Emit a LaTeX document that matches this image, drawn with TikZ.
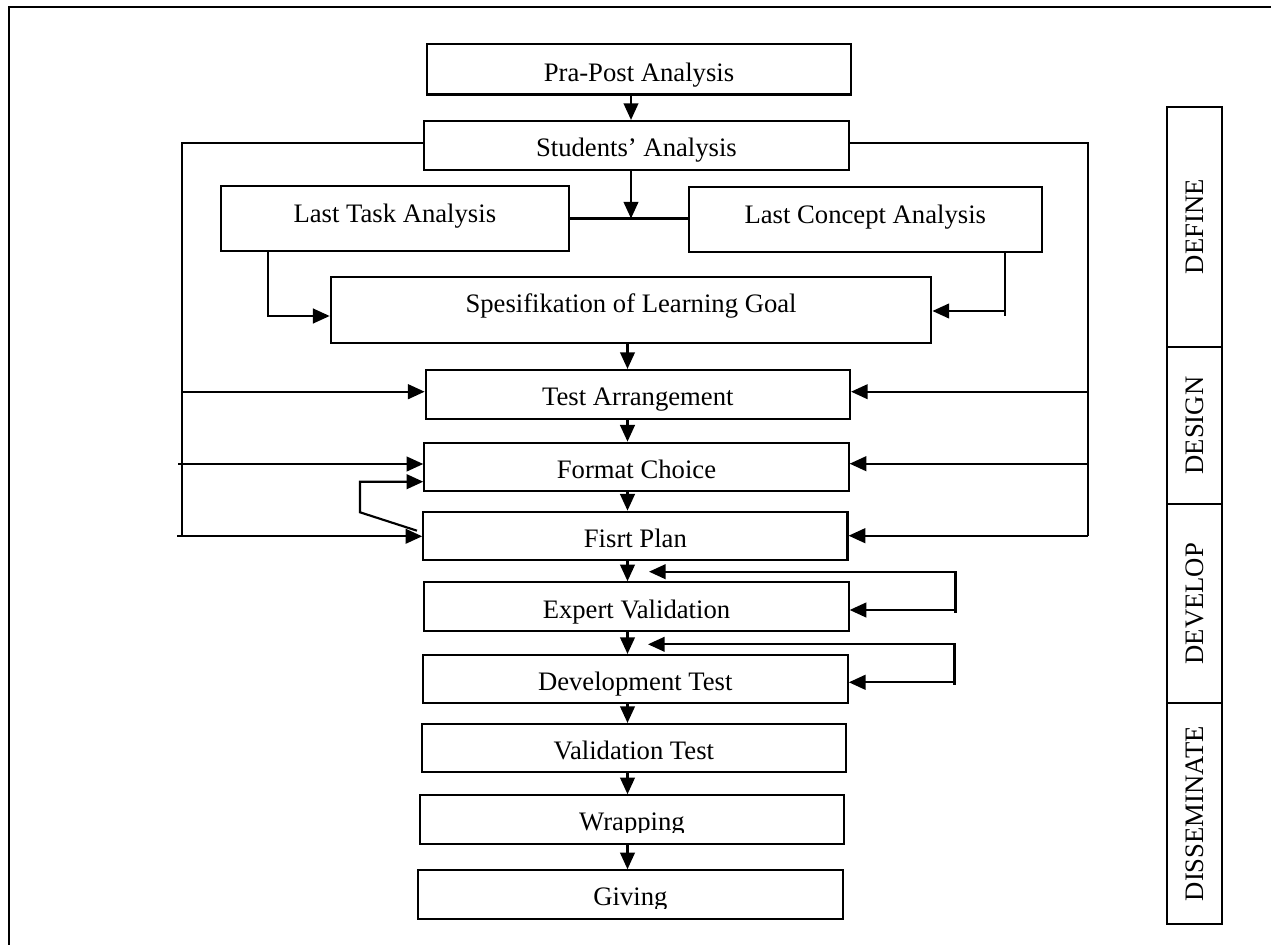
\documentclass[tikz,border=0pt]{standalone}
\usepackage{fontspec}
\setmainfont{Liberation Serif}
\usetikzlibrary{arrows.meta,calc}
\begin{document}
\begin{tikzpicture}[x=0.75pt,y=-0.75pt,
  every node/.style={font=\fontsize{20}{24}\selectfont},
  box/.style={draw, line width=1.6pt, inner sep=0pt, anchor=center},
  plain/.style={inner sep=0pt, anchor=center},
  phase/.style={draw, line width=1.6pt, inner sep=0pt, rotate=90, minimum height=41.7pt, text height=13.24pt, text depth=0pt},
  arr/.style={line width=1.6pt, -{Triangle[length=12.5pt,width=11pt]}},
  ln/.style={line width=1.6pt},
  frameline/.style={line width=2pt},
  dtwo/.style={text height=16.24pt, text depth=0pt},
  dtwohalf/.style={text height=17pt, text depth=0pt},
  dthree/.style={text height=17.74pt, text depth=0pt},
  dthreehalf/.style={text height=18.49pt, text depth=0pt},
  ufive/.style={text height=13.24pt, text depth=7.5pt},
  usix/.style={text height=13.24pt, text depth=9pt}
]
\useasboundingbox (0,0) rectangle (1271,945);
% frame
\draw[frameline] (9,945) -- (9,7) -- (1271,7);

% boxes
\node[box, dthree, minimum width=318pt, minimum height=37.9pt] (pra) at (639,69.25) {Pra-Post Analysis};
\node[box, dtwo, minimum width=318.2pt, minimum height=36.75pt] (stud) at (636.45,145.5) {Students’ Analysis};
\node[box, ufive, minimum width=261.2pt, minimum height=48.5pt] (task) at (394.85,218.35) {Last Task Analysis};
\node[box, ufive, minimum width=265pt, minimum height=48.75pt] (concept) at (865.3,219.5) {Last Concept Analysis};
\node[box, usix, minimum width=450.5pt, minimum height=50pt] (spec) at (631.05,310) {Spesifikation of Learning Goal};
\node[box, dtwo, minimum width=318.2pt, minimum height=36.75pt] (test) at (637.85,394.5) {Test Arrangement};
\node[box, dthree, minimum width=318.2pt, minimum height=36.2pt] (format) at (636.45,466.85) {Format Choice};
\node[box, dthree, minimum width=318.2pt, minimum height=36.2pt] (plan) at (635.4,535.85) {Fisrt Plan};
\node[box, dthreehalf, minimum width=318.2pt, minimum height=36.3pt] (expert) at (636.45,606.5) {Expert Validation};
\node[box, dthree, minimum width=318.8pt, minimum height=36.2pt] (dev) at (635.25,679.15) {Development Test};
\node[box, dthree, minimum width=318.2pt, minimum height=36.2pt] (valid) at (633.85,748.15) {Validation Test};
\node[box, minimum width=318pt, minimum height=36.3pt] (wrap) at (632,819.5) {};
\node[box, minimum width=318.3pt, minimum height=36.5pt] (give) at (630.5,894.65) {};
\begin{scope}
  \clip (wrap.north west) rectangle ($(wrap.east)+(0,13.3)$);
  \node[plain, dtwohalf] (wraptxt) at (wrap.center) {Wrapping};
\end{scope}
\begin{scope}
  \clip (give.north west) rectangle ($(give.east)+(0,13.5)$);
  \node[plain, dtwohalf] (givetxt) at (give.center) {Giving};
\end{scope}

% phase column
\node[phase, minimum width=180.2pt] (pdef) at (1194.5,226.85) {DEFINE};
\node[phase, minimum width=117.75pt] (pdes) at (1194.5,425.5) {DESIGN};
\node[phase, minimum width=149.5pt] (pdev) at (1194.5,603.65) {DEVELOP};
\node[phase, minimum width=165.75pt] (pdis) at (1194.5,813.8) {DISSEMINATE};

% helper coordinates
\coordinate (xa) at (631,0);
\coordinate (xb) at (627.5,0);
\coordinate (jn) at (631,218.5);
\coordinate (Ltop) at (181.7,143);
\coordinate (Lbot) at (181.7,536);
\coordinate (Rtop) at (1088,143);
\coordinate (Rbot) at (1088,536);
\coordinate (tk) at (267.7,316);
\coordinate (ck) at (1005,311);
\coordinate (ckb) at (1005,316);
\coordinate (la) at (181.7,391.7);
\coordinate (lb) at (178.3,464);
\coordinate (lc) at (177.3,536.3);
\coordinate (ra) at (1088,391.7);
\coordinate (rb) at (1088,463.7);
\coordinate (rc) at (1088,535.7);
\coordinate (lp1) at (417,530.7);
\coordinate (lp2) at (360,512.3);
\coordinate (lp3) at (360,481.7);
\coordinate (r1b) at (955.5,612.5);
\coordinate (r1t) at (955.5,571.7);
\coordinate (r1e) at (649,571.7);
\coordinate (r1m) at (955.5,610);
\coordinate (r2b) at (954.5,684.5);
\coordinate (r2t) at (954.5,644.3);
\coordinate (r2e) at (648,644.3);
\coordinate (r2m) at (954.5,682.3);

% main chain
\draw[arr] (pra.south -| xa) -- (stud.north -| xa);
\draw[arr] (stud.south -| xa) -- (jn);
\draw[ln] (task.east |- jn) -- (concept.west |- jn);
\draw[arr] (task.south -| tk) |- (spec.west |- tk);
\draw[ln] (concept.south -| ck) -- (ckb);
\draw[arr] (ck) -- (spec.east |- ck);
\draw[arr] (spec.south -| xb) -- (test.north -| xb);
\draw[arr] (test.south -| xb) -- (format.north -| xb);
\draw[arr] (format.south -| xb) -- (plan.north -| xb);
\draw[arr] (plan.south -| xb) -- (expert.north -| xb);
\draw[arr] (expert.south -| xb) -- (dev.north -| xb);
\draw[arr] (dev.south -| xb) -- (valid.north -| xb);
\draw[arr] (valid.south -| xb) -- (wrap.north -| xb);
\draw[arr] (wrap.south -| xb) -- (give.north -| xb);

% side buses
\draw[ln] (stud.west |- Ltop) -- (Ltop) -- (Lbot);
\draw[ln] (stud.east |- Rtop) -- (Rtop) -- (Rbot);
\draw[arr] (la) -- (test.west |- la);
\draw[arr] (lb) -- (format.west |- lb);
\draw[arr] (lc) -- (plan.west |- lc);
\draw[arr] (ra) -- (test.east |- ra);
\draw[arr] (rb) -- (format.east |- rb);
\draw[arr] (rc) -- (plan.east |- rc);

% small loop plan -> format
\draw[arr] (lp1) -- (lp2) -- (lp3) -- (format.west |- lp3);

% develop loops
\draw[arr] (r1b) -- (r1t) -- (r1e);
\draw[arr] (r1m) -- (expert.east |- r1m);
\draw[arr] (r2b) -- (r2t) -- (r2e);
\draw[arr] (r2m) -- (dev.east |- r2m);
\end{tikzpicture}
\end{document}
